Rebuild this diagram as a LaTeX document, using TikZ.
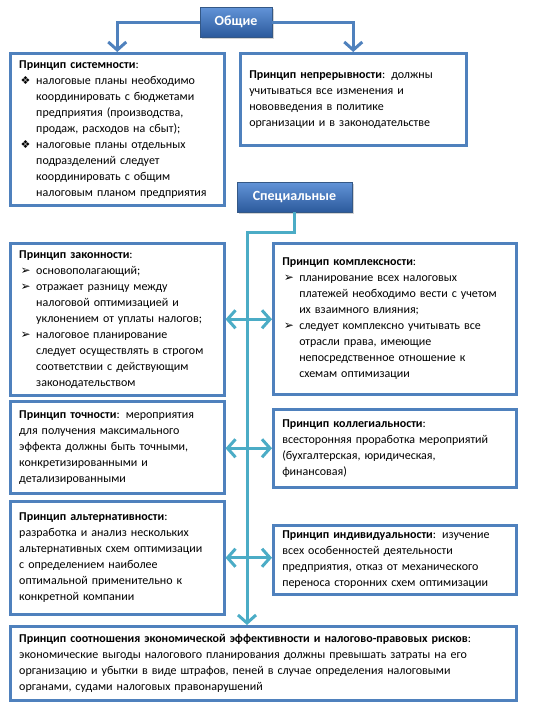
\documentclass[tikz,border=0pt]{standalone}
\usepackage{fontspec}
\setmainfont{Carlito}
\newfontfamily\dingfont{DejaVu Sans}
\usetikzlibrary{arrows.meta,shadows}

\definecolor{framecol}{RGB}{79,129,189}
\definecolor{trunkcol}{RGB}{75,172,198}
\definecolor{headtop}{RGB}{98,148,216}
\definecolor{headbottom}{RGB}{44,90,156}
\definecolor{headedge}{RGB}{52,88,134}

\newcommand{\dmd}{\par\hangindent=17pt\hangafter=1\noindent\makebox[17pt][l]{\hspace{1.5pt}{\dingfont\fontsize{11}{11}\selectfont ❖}}}
\newcommand{\tri}{\par\hangindent=17pt\hangafter=1\noindent\makebox[17pt][l]{\hspace{1.5pt}{\dingfont\fontsize{12}{12}\selectfont ➢}}}

\begin{document}
\begin{tikzpicture}[x=1pt,y=-1pt]
\tikzstyle{head}=[draw=headedge, thick, top color=headtop, bottom color=headbottom, text=white, font=\fontsize{14}{16}\selectfont\bfseries, minimum height=30pt, drop shadow={shadow xshift=1.5pt,shadow yshift=-2pt,opacity=0.35}]
\tikzstyle{frame}=[draw=framecol, line width=2.5pt, anchor=north west, align=left, inner xsep=9pt, inner ysep=4pt, font=\fontsize{12}{16}\selectfont]
\tikzstyle{link}=[draw=framecol, line width=3pt, -{Straight Barb[length=8pt,width=18pt]}]
\tikzstyle{trunk}=[draw=trunkcol, line width=3pt, -{Straight Barb[length=8pt,width=18pt]}]
\tikzstyle{twin}=[draw=trunkcol, line width=3pt, {Straight Barb[length=8pt,width=18pt]}-{Straight Barb[length=8pt,width=18pt]}]

\useasboundingbox (0,0) rectangle (551,707);

\node (gen) [head, minimum width=72pt] at (236,22) {Общие};

\node (sist) [frame, text width=196pt, minimum height=152pt] at (9,52) {\textbf{Принцип системности}:
\dmd налоговые планы необходимо\newline координировать с бюджетами\newline предприятия (производства,\newline продаж, расходов на сбыт);
\dmd налоговые планы отдельных\newline подразделений следует\newline координировать с общим\newline налоговым планом предприятия\par};

\node (nepr) [frame, text width=208pt, minimum height=92pt] at (239,52) {\textbf{Принцип непрерывности}: должны\\ учитываться все изменения и\\ нововведения в политике\\ организации и в законодательстве};

\draw [link] (gen.west) -| (sist.north);
\draw [link] (gen.east) -| (nepr.north);

\node (spec) [head, minimum width=115pt] at (294.5,197) {Специальные};

\node (zak) [frame, text width=196pt, minimum height=152pt] at (9,242) {\textbf{Принцип законности}:
\tri основополагающий;
\tri отражает разницу между\newline налоговой оптимизацией и\newline уклонением от уплаты налогов;
\tri налоговое планирование\newline следует осуществлять в строгом\newline соответствии с действующим\newline законодательством\par};

\node (kompl) [frame, text width=225pt, minimum height=151pt] at (272,242) {\textbf{Принцип комплексности}:
\tri планирование всех налоговых\newline платежей необходимо вести с учетом\newline их взаимного влияния;
\tri следует комплексно учитывать все\newline отрасли права, имеющие\newline непосредственное отношение к\newline схемам оптимизации\par};

\node (toch) [frame, text width=196pt, minimum height=92pt] at (9,400) {\textbf{Принцип точности}: мероприятия\\ для получения максимального\\ эффекта должны быть точными,\\ конкретизированными и\\ детализированными};

\node (koll) [frame, text width=225pt, minimum height=78pt] at (272,408) {\textbf{Принцип коллегиальности}:\\ всесторонняя проработка мероприятий\\ (бухгалтерская, юридическая,\\ финансовая)};

\node (alt) [frame, text width=196pt, minimum height=113pt] at (9,500) {\textbf{Принцип альтернативности}:\\ разработка и анализ нескольких\\ альтернативных схем оптимизации\\ с определением наиболее\\ оптимальной применительно к\\ конкретной компании};

\node (indiv) [frame, text width=225pt, minimum height=69pt] at (272,524) {\textbf{Принцип индивидуальности}: изучение\\ всех особенностей деятельности\\ предприятия, отказ от механического\\ переноса сторонних схем оптимизации};

\node (sootn) [frame, text width=488pt, minimum height=74pt] at (9,625) {\textbf{Принцип соотношения экономической эффективности и налогово-правовых рисков}:\\ экономические выгоды налогового планирования должны превышать затраты на его\\ организацию и убытки в виде штрафов, пеней в случае определения налоговыми\\ органами, судами налоговых правонарушений};

\draw [twin] (zak.east) -- (zak.east -| kompl.west);
\draw [twin] (toch.east |- koll.west) -- (koll.west);
\draw [twin] (alt.east) -- (alt.east -| indiv.west);

\coordinate (bend) at (247,232);
\draw [trunk] (spec.south) |- (bend) -- (bend |- sootn.north);

\end{tikzpicture}
\end{document}
